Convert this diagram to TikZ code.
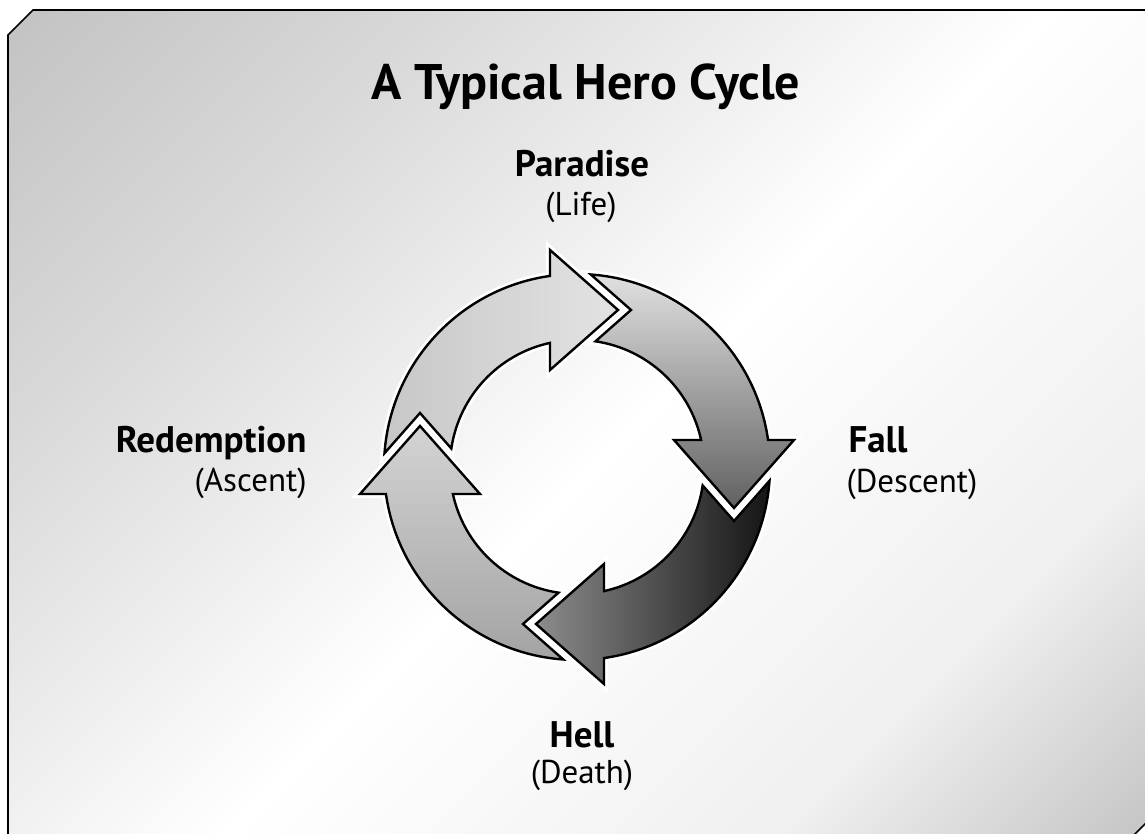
\documentclass[tikz,border=0pt]{standalone}
\usepackage{fontspec}
\setmainfont{PT Sans}
\usetikzlibrary{calc,positioning}
\pgfdeclarehorizontalshading{heroback}{100bp}{color(0bp)=(black!32); color(30bp)=(black!15); color(52bp)=(white); color(72bp)=(black!6); color(100bp)=(black!42)}
\tikzset{
  framebox/.style={shade, shading=heroback, shading angle=-45, draw=black, line width=1.6pt},
  halo/.style={draw=white, line width=8pt, line join=miter},
  cyclearrow/.style={draw=black, line width=2.4pt, line join=miter},
  arrowtop/.style={cyclearrow, left color=black!22, right color=black!11},
  arrowright/.style={cyclearrow, top color=black!12, bottom color=black!62},
  arrowbottom/.style={cyclearrow, left color=black!45, right color=black!92},
  arrowleft/.style={cyclearrow, top color=black!17, bottom color=black!36},
  title/.style={font=\fontsize{50}{58}\selectfont\bfseries},
  stage/.style={font=\fontsize{37}{44}\selectfont\bfseries},
  gloss/.style={font=\fontsize{33}{38}\selectfont}
}
% one quarter of the cycle, pointing right at the top; #1 = turn, #2 = style
\newcommand{\heroarrow}[2]{%
  \path[#2, rotate=#1] (41,157) -- (-27,97) -- (-27,124.1)
    arc[start angle=102.27, end angle=171.64, radius=127pt]
    -- (-157,54) -- (-192.5,13.76)
    arc[start angle=175.9, end angle=98.04, radius=193pt]
    -- (-27,217) -- cycle;}

\begin{document}
\begin{tikzpicture}[x=1pt, y=1pt]
  \useasboundingbox (0,0) rectangle (1145,834);
  \clip (0,0) rectangle (1145,834);
  \fill[white] (0,0) rectangle (1145,834);

  % background panel
  \path[framebox] (8,799) -- (33,824) -- (1152,824) -- (1152,17) -- (1129,-6) -- (8,-6) -- cycle;

  \node[title] (heading) at (586,734) [anchor=base] {A Typical Hero Cycle};

  % the four arrows round the centre
  \begin{scope}[shift={(577,367)}]
    \heroarrow{0}{halo}
    \heroarrow{-90}{halo}
    \heroarrow{-180}{halo}
    \heroarrow{-270}{halo}
    \heroarrow{0}{arrowtop}
    \heroarrow{-90}{arrowright}
    \heroarrow{-180}{arrowbottom}
    \heroarrow{-270}{arrowleft}
  \end{scope}

  \node[stage, anchor=base] (paradise) at (582,657) {Paradise};
  \node[gloss, anchor=base] (life) at (581,618) {(Life)};

  \node[stage, anchor=base west] (fall) at (845,381) {Fall};
  \node[gloss, anchor=base west] (descent) at (843,341) {(Descent)};

  \node[stage, anchor=base] (hell) at (582,86) {Hell};
  \node[gloss, anchor=base] (death) at (582,50) {(Death)};

  \node[stage, anchor=base east] (redemption) at (310,381) {Redemption};
  \node[gloss, anchor=base east] (ascent) at (310,342) {(Ascent)};
\end{tikzpicture}
\end{document}
